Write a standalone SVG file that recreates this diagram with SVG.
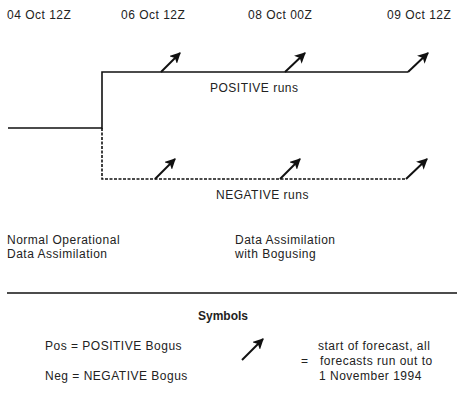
<svg xmlns="http://www.w3.org/2000/svg" width="457" height="396" viewBox="0 0 457 396">
<style>
text{font-family:"Liberation Sans",Arial,sans-serif;font-size:12px;fill:#222;letter-spacing:0.5px}
.b{font-weight:bold;letter-spacing:0}
.ln{stroke:#111;stroke-width:1.6;fill:none}
.d{stroke-dasharray:3 1.5}
.ar{stroke:#111;stroke-width:2;fill:none;marker-end:url(#ah)}
</style>
<defs>
<marker id="ah" viewBox="0 0 10 10" refX="9" refY="5" markerWidth="5.5" markerHeight="5.5" orient="auto" markerUnits="strokeWidth">
<path d="M0,0 L10,5 L0,10 L2.5,5 Z" fill="#111"/>
</marker>
</defs>
<g id="dates">
<text x="7" y="19">04 Oct 12Z</text>
<text x="121" y="19">06 Oct 12Z</text>
<text x="248" y="19">08 Oct 00Z</text>
<text x="387" y="19">09 Oct 12Z</text>
</g>
<g id="connectors">
<path class="ln" d="M8,128 H102 V72 H408"/>
<path class="ln d" d="M102,128 V179 H406"/>
<path class="ar" d="M161,72 L180,53"/>
<path class="ar" d="M285,72 L305,53"/>
<path class="ar" d="M408,72 L428,53"/>
<path class="ar" d="M155,179 L175,159"/>
<path class="ar" d="M280,179 L300,159"/>
<path class="ar" d="M406,179 L427,159"/>
</g>
<g id="pos-label"><text x="210" y="92">POSITIVE runs</text></g>
<g id="neg-label"><text x="216" y="199">NEGATIVE runs</text></g>
<g id="normal"><text x="7" y="244">Normal Operational</text><text x="7" y="258">Data Assimilation</text></g>
<g id="bogus"><text x="235" y="244">Data Assimilation</text><text x="235" y="258">with Bogusing</text></g>
<line x1="7" y1="293" x2="457" y2="293" stroke="#111" stroke-width="1.3"/>
<g id="symbols">
<text class="b" x="198" y="320">Symbols</text>
<text x="45" y="350">Pos = POSITIVE Bogus</text>
<text x="45" y="380">Neg = NEGATIVE Bogus</text>
<path class="ar" d="M242,360 L263,339"/>
<text x="301" y="365">=</text>
<text x="318" y="350">start of forecast, all</text>
<text x="320" y="365">forecasts run out to</text>
<text x="319" y="380">1 November 1994</text>
</g>
</svg>
